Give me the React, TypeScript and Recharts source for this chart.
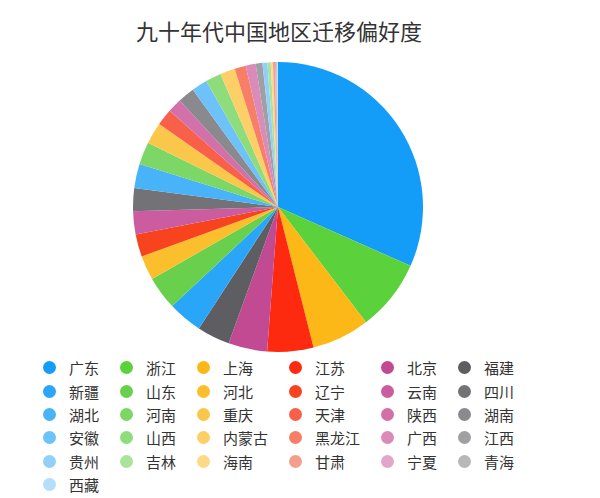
import React from 'react';
import { PieChart, Pie, Cell, Legend } from 'recharts';

const title = '九十年代中国地区迁移偏好度';

const provinces = [
  '广东', '浙江', '上海', '江苏', '北京', '福建',
  '新疆', '山东', '河北', '辽宁', '云南', '四川',
  '湖北', '河南', '重庆', '天津', '陕西', '湖南',
  '安徽', '山西', '内蒙古', '黑龙江', '广西', '江西',
  '贵州', '吉林', '海南', '甘肃', '宁夏', '青海',
  '西藏',
];

const values = [
  114, 28.7, 23.2, 18.5, 15.6, 13.2,
  13.8, 13.4, 9.8, 9.0, 9.3, 9.2,
  9.7, 9.1, 8.6, 6.7, 5.7, 6.7,
  6.3, 6.3, 6.0, 4.5, 4.0, 2.7,
  2.0, 1.3, 0.9, 0.8, 0.5, 0.4,
  0.3,
];

const colors = [
  '#139df8', '#5bd13c', '#fbb816', '#fd2a10', '#c24a92', '#5e5e62',
  '#2aa6f8', '#68d04c', '#fbbf2e', '#f8431f', '#cc5ca0', '#737377',
  '#48b3f8', '#7cd767', '#fbc74a', '#f8604a', '#d270aa', '#8a8a8e',
  '#6cc2f9', '#8fdc7d', '#fcd066', '#f77f68', '#da8bba', '#a0a0a4',
  '#92d0fa', '#a8e49a', '#fdd98a', '#f59e8d', '#e2a6c9', '#b8b8bb',
  '#b5defb',
];

const data = provinces.map((name, i) => ({ name, value: values[i] }));

const FONT = '"Noto Sans CJK SC", "Noto Sans", sans-serif';

const renderLegend = () => (
  <div
    style={{
      display: 'grid',
      gridTemplateColumns: 'repeat(6, auto)',
      gridAutoRows: '23.4px',
      columnGap: '21px',
      justifyContent: 'start',
      fontFamily: FONT,
      fontSize: 15,
      color: '#333',
    }}
  >
    {provinces.map((name, i) => (
      <div key={name} style={{ display: 'flex', alignItems: 'center', height: 23.4 }}>
        <span
          style={{
            display: 'inline-block',
            width: 13,
            height: 13,
            borderRadius: '50%',
            background: colors[i],
            marginRight: 13,
            flexShrink: 0,
          }}
        />
        <span style={{ lineHeight: '15px', whiteSpace: 'nowrap' }}>{name}</span>
      </div>
    ))}
  </div>
);

export default function App() {
  return (
    <div style={{ position: 'absolute', left: 0, top: 0, width: 600, height: 498, background: '#fff' }}>
      <div
        style={{
          position: 'absolute',
          left: 0,
          top: 16,
          width: 558,
          textAlign: 'center',
          fontFamily: FONT,
          fontSize: 22,
          color: '#333',
          lineHeight: '28px',
        }}
      >
        {title}
      </div>
      <PieChart width={600} height={498} margin={{ top: 0, right: 0, bottom: 0, left: 0 }}>
        <Pie
          data={data}
          dataKey="value"
          nameKey="name"
          cx={278}
          cy={207}
          outerRadius={145}
          startAngle={90}
          endAngle={-270}
          stroke="none"
          isAnimationActive={false}
        >
          {data.map((d, i) => (
            <Cell key={d.name} fill={colors[i]} />
          ))}
        </Pie>
        <Legend
          content={renderLegend}
          wrapperStyle={{ position: 'absolute', left: 43, top: 356, width: 557 }}
        />
      </PieChart>
    </div>
  );
}
